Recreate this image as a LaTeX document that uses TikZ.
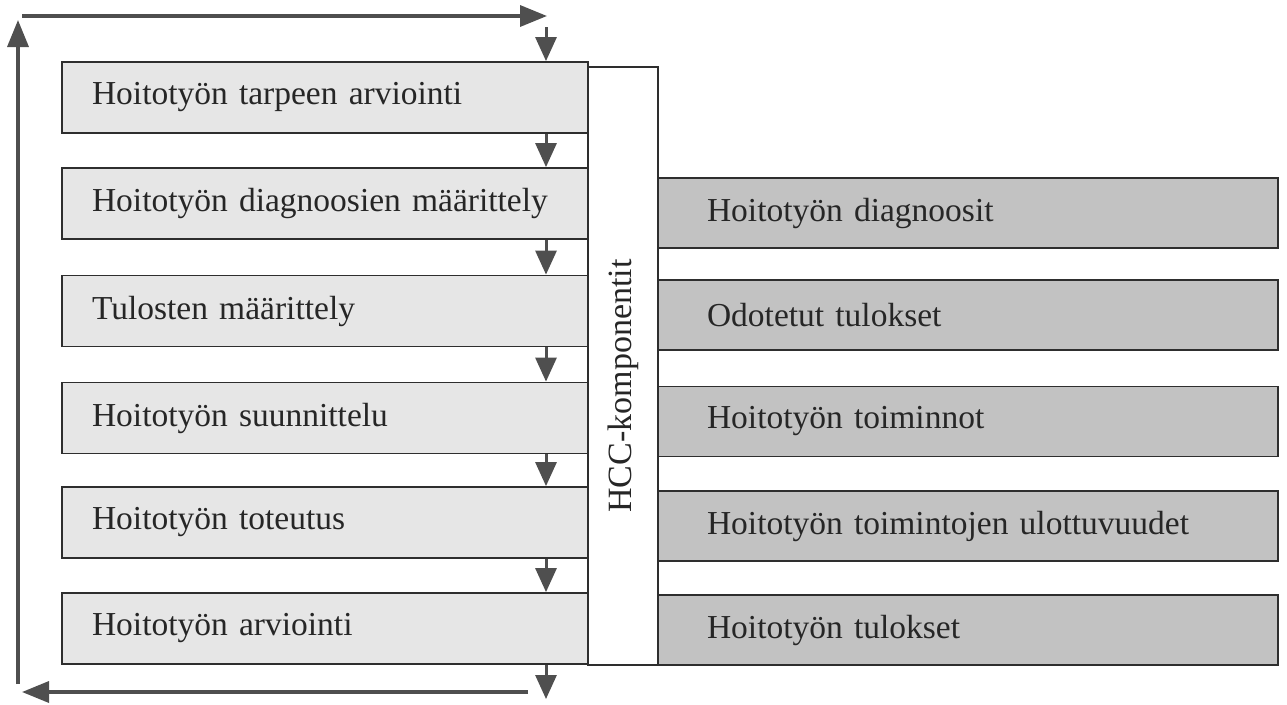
\documentclass[tikz,border=0pt]{standalone}
\usepackage{fontspec}
\setmainfont{Liberation Serif}
\usetikzlibrary{arrows.meta}
\definecolor{lgray}{HTML}{E6E6E6}
\definecolor{dgray}{HTML}{C2C2C2}
\definecolor{arrcol}{HTML}{4F4F4F}
\definecolor{edge}{HTML}{2E2E2E}
\begin{document}
\begin{tikzpicture}[x=1pt,y=-1pt,
  lbox/.style={draw=edge,line width=1.8pt,fill=lgray,minimum width=526pt,minimum height=71pt,
    inner xsep=30pt,text width=466pt,align=left,font=\fontsize{33.5}{36}\selectfont,text=black!85},
  rbox/.style={draw=edge,line width=1.8pt,fill=dgray,minimum width=620pt,minimum height=70pt,
    inner xsep=49pt,text width=522pt,align=left,font=\fontsize{33.5}{36}\selectfont,text=black!85},
  hccbox/.style={draw=edge,line width=1.8pt,fill=white,rotate=90,minimum width=598pt,minimum height=70pt,
    inner sep=0pt,font=\fontsize{34}{36}\selectfont,text=black!85},
  arr/.style={draw=arrcol,line width=3pt,-{Triangle[width=21pt,length=24pt]},arrcol},
  bigarr/.style={draw=arrcol,line width=3.5pt,-{Triangle[width=21pt,length=27pt]},arrcol}]
\useasboundingbox (0,0) rectangle (1287,704);
\node[hccbox] (hcc) at (623,366) {HCC-komponentit\hspace*{40pt}};
\node[lbox] (l1) at (325,97.5) {Hoitotyön tarpeen arviointi};
\node[lbox] (l2) at (325,203.5) {Hoitotyön diagnoosien määrittely};
\node[lbox] (l3) at (325,311) {Tulosten määrittely};
\node[lbox] (l4) at (325,418) {Hoitotyön suunnittelu};
\node[lbox] (l5) at (325,522.5) {Hoitotyön toteutus};
\node[lbox] (l6) at (325,628.5) {Hoitotyön arviointi};
\node[rbox] (r1) at (968,213) {Hoitotyön diagnoosit};
\node[rbox] (r2) at (968,315) {Odotetut tulokset};
\node[rbox] (r3) at (968,421.5) {Hoitotyön toiminnot};
\node[rbox] (r4) at (968,526) {Hoitotyön toimintojen ulottuvuudet};
\node[rbox] (r5) at (968,630) {Hoitotyön tulokset};
\coordinate (ax) at (546,0);
\coordinate (top) at (546,27);
\coordinate (bot) at (546,699);
\coordinate (tl) at (22,16);
\coordinate (tr) at (547,16);
\coordinate (bl) at (22,692);
\coordinate (br) at (528,692);
\coordinate (lb) at (18,684);
\coordinate (lt) at (18,20);
\draw[arr] (top) -- (l1.north -| ax);
\draw[arr] (l1.south -| ax) -- (l2.north -| ax);
\draw[arr] (l2.south -| ax) -- (l3.north -| ax);
\draw[arr] (l3.south -| ax) -- (l4.north -| ax);
\draw[arr] (l4.south -| ax) -- (l5.north -| ax);
\draw[arr] (l5.south -| ax) -- (l6.north -| ax);
\draw[arr] (l6.south -| ax) -- (bot);
\draw[bigarr] (tl) -- (tr);
\draw[bigarr] (br) -- (bl);
\draw[bigarr] (lb) -- (lt);
\end{tikzpicture}
\end{document}
